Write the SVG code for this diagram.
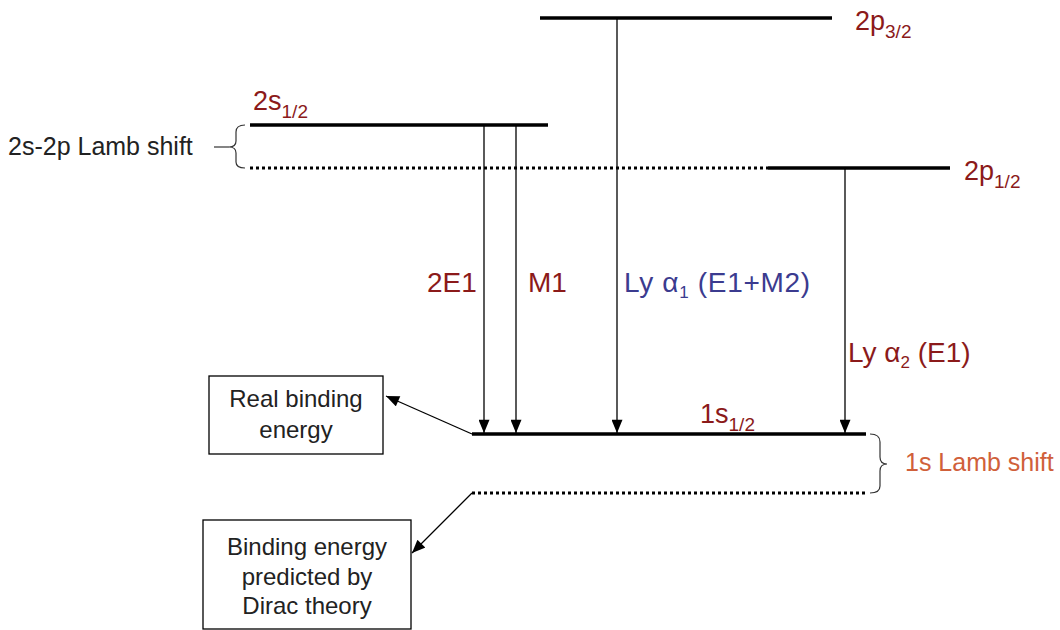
<svg xmlns="http://www.w3.org/2000/svg" width="1060" height="630" viewBox="0 0 1060 630">
<style>
text{font-family:"Liberation Sans",Arial,sans-serif}
.lvl{stroke:#000;stroke-width:3.5;fill:none}
.dot{stroke:#000;stroke-width:3;stroke-dasharray:3 3;fill:none}
.arr{stroke:#000;stroke-width:1.3;fill:none}
.brace{stroke:#333;stroke-width:1.2;fill:none}
.red{fill:#8b1a1a;font-size:27px}
.tr{font-size:28px}
.blue{fill:#3b3b8f;font-size:28px}
.sub{font-size:19px}
.box{fill:#fff;stroke:#000;stroke-width:1.3}
.bt{fill:#222;font-size:24px;text-anchor:middle}
</style>
<defs>
<marker id="ah" viewBox="0 0 12 10" refX="12" refY="5" markerWidth="14" markerHeight="11" markerUnits="userSpaceOnUse" orient="auto">
<path d="M0,0 L12,5 L0,10 z" fill="#000"/>
</marker>
</defs>
<rect width="1060" height="630" fill="#fff"/>
<g id="levels">
<line class="lvl" x1="540" y1="18" x2="832" y2="18"/>
<line class="lvl" x1="250" y1="125" x2="548" y2="125"/>
<line class="dot" x1="250" y1="168" x2="768" y2="168"/>
<line class="lvl" x1="768" y1="168" x2="950" y2="168"/>
<line class="lvl" x1="472" y1="434" x2="866" y2="434" stroke-width="4"/>
<line class="dot" x1="472" y1="493" x2="866" y2="493"/>
</g>
<g id="labels">
<text class="red" x="855" y="30">2p<tspan class="sub" dy="8">3/2</tspan></text>
<text class="red" x="253" y="110">2s<tspan class="sub" dy="8">1/2</tspan></text>
<text class="red" x="964" y="180">2p<tspan class="sub" dy="8">1/2</tspan></text>
<text class="red" x="700" y="423">1s<tspan class="sub" dy="8">1/2</tspan></text>
<text class="red tr" x="427" y="292">2E1</text>
<text class="red tr" x="528" y="292">M1</text>
<text class="blue" x="624" y="292" textLength="186" lengthAdjust="spacing">Ly α<tspan font-size="17" dy="6">1</tspan><tspan dy="-6"> (E1+M2)</tspan></text>
<text class="red tr" x="848" y="362">Ly α<tspan font-size="17" dy="6">2</tspan><tspan dy="-6"> (E1)</tspan></text>
</g>
<g id="lamb-2s2p">
<path class="brace" d="M245,125 Q236,125 236,132 L236,141 Q236,147 229,147 Q236,147 236,153 L236,162 Q236,168 245,168"/>
<line class="brace" x1="214" y1="147" x2="229" y2="147"/>
<text x="8" y="155" font-size="25" fill="#222">2s-2p Lamb shift</text>
</g>
<g id="lamb-1s">
<path class="brace" d="M870,434 Q880,434 880,442 L880,457 Q880,464 887,464 Q880,464 880,471 L880,486 Q880,493 870,493"/>
<text x="905" y="471" font-size="25" fill="#d0603a">1s Lamb shift</text>
</g>
<g id="box-real">
<rect class="box" x="209" y="376" width="174" height="78"/>
<text class="bt" x="296" y="407">Real binding</text>
<text class="bt" x="296" y="438">energy</text>
</g>
<g id="box-dirac">
<rect class="box" x="203" y="520" width="208" height="109"/>
<text class="bt" x="307" y="555">Binding energy</text>
<text class="bt" x="307" y="585">predicted by</text>
<text class="bt" x="307" y="614">Dirac theory</text>
</g>
<g id="connectors">
<line class="arr" x1="484" y1="125" x2="484" y2="433" marker-end="url(#ah)"/>
<line class="arr" x1="516" y1="125" x2="516" y2="433" marker-end="url(#ah)"/>
<line class="arr" x1="617" y1="18" x2="617" y2="433" marker-end="url(#ah)"/>
<line class="arr" x1="845" y1="168" x2="845" y2="433" marker-end="url(#ah)"/>
<line class="arr" x1="472" y1="434" x2="386" y2="396" marker-end="url(#ah)"/>
<line class="arr" x1="472" y1="493" x2="412" y2="553" marker-end="url(#ah)"/>
</g>
</svg>
